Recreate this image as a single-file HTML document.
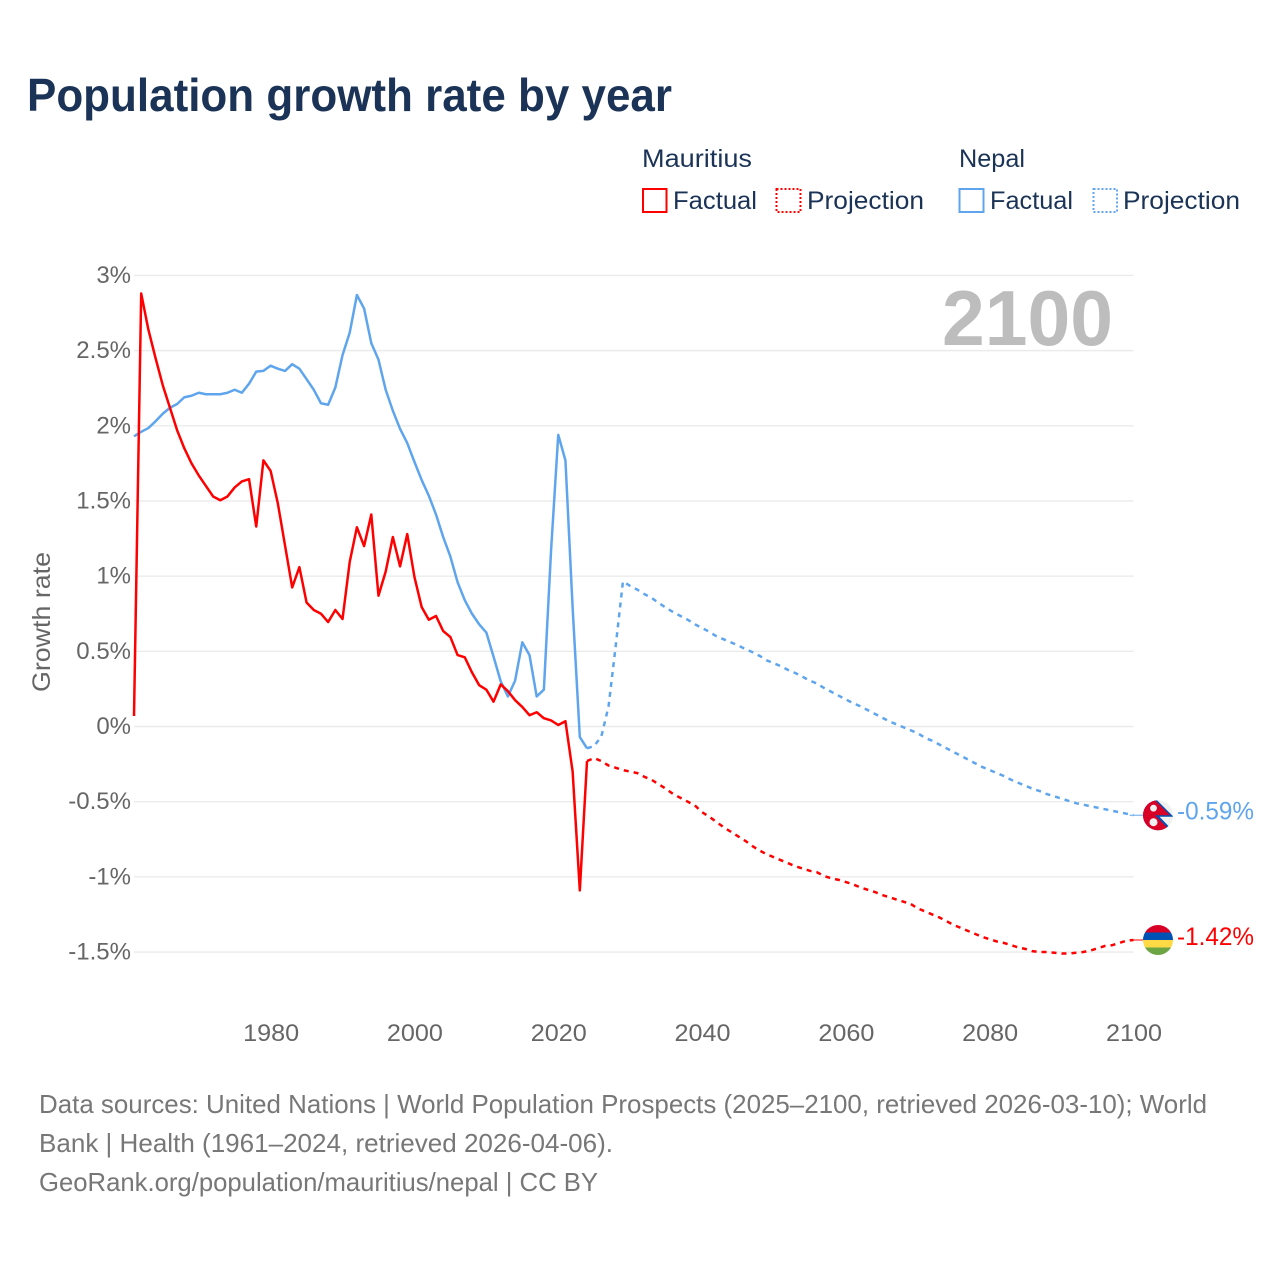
<!DOCTYPE html>
<html lang="en">
<head>
<meta charset="utf-8">
<title>Population growth rate by year</title>
<style>
html,body{margin:0;padding:0;background:#fff;width:1280px;height:1280px;overflow:hidden}
svg{display:block}
text{font-family:"Liberation Sans",sans-serif}
.tick{font-size:24px;fill:#666}
.leg{font-size:25px;fill:#1a3356}
.foot{font-size:26px;fill:#777}
</style>
</head>
<body>
<svg id="chart" xmlns="http://www.w3.org/2000/svg" width="1280" height="1280" viewBox="0 0 1280 1280">
  <defs>
    <clipPath id="flag-clip-np"><circle cx="0" cy="0" r="15"/></clipPath>
    <clipPath id="flag-clip-mu"><circle cx="0" cy="0" r="15"/></clipPath>
  </defs>

  <text x="27" y="111" font-size="46" font-weight="700" fill="#1a3356" textLength="645" lengthAdjust="spacingAndGlyphs">Population growth rate by year</text>

  <g>
    <text class="leg" x="642" y="167" textLength="110" lengthAdjust="spacingAndGlyphs">Mauritius</text>
    <g>
      <rect x="643" y="189" width="23.5" height="23" fill="none" stroke="#ff0000" stroke-width="2"/>
      <text class="leg" x="673" y="209" textLength="84" lengthAdjust="spacingAndGlyphs">Factual</text>
    </g>
    <g>
      <rect x="776.5" y="189" width="24" height="23" fill="none" stroke="#ff0000" stroke-width="2" stroke-dasharray="2 2"/>
      <text class="leg" x="807" y="209" textLength="117" lengthAdjust="spacingAndGlyphs">Projection</text>
    </g>
    <text class="leg" x="959" y="167" textLength="66" lengthAdjust="spacingAndGlyphs">Nepal</text>
    <g>
      <rect x="959.5" y="189" width="24" height="23" fill="none" stroke="#5fa5ee" stroke-width="2"/>
      <text class="leg" x="990" y="209" textLength="83" lengthAdjust="spacingAndGlyphs">Factual</text>
    </g>
    <g>
      <rect x="1093.5" y="189" width="23.5" height="23" fill="none" stroke="#5fa5ee" stroke-width="2" stroke-dasharray="2 2"/>
      <text class="leg" x="1123" y="209" textLength="117" lengthAdjust="spacingAndGlyphs">Projection</text>
    </g>
  </g>

  <g id="grid"></g>
  <g id="yticks"></g>
  <g id="xticks"></g>

  <text x="1113" y="345" font-size="78" font-weight="700" fill="#bdbdbd" text-anchor="end" textLength="171" lengthAdjust="spacingAndGlyphs">2100</text>

  <text transform="translate(50,622) rotate(-90)" font-size="25" fill="#666" text-anchor="middle" textLength="140" lengthAdjust="spacingAndGlyphs">Growth rate</text>

  <g id="series"></g>

  <g id="flag-nepal">
    <g clip-path="url(#flag-clip-np)">
      <rect x="-15" y="-15" width="30" height="30" fill="#f0f0f0"/>
      <polygon points="-4,-18 15.5,1.5 1.5,1.5 15.5,16 -15,17 -15,-18" fill="#0052b4"/>
      <polygon points="-3,-15 12,0 -3,0 12.5,15.5 -15,16 -15,-16" fill="#d80027"/>
      <circle cx="-4.5" cy="-7" r="3.4" fill="#f0f0f0"/>
      <circle cx="-4.5" cy="7" r="4" fill="#f0f0f0"/>
    </g>
  </g>
  <g id="flag-mauritius">
    <g clip-path="url(#flag-clip-mu)">
      <rect x="-15" y="-15" width="30" height="8" fill="#d80027"/>
      <rect x="-15" y="-7.5" width="30" height="7.5" fill="#0052b4"/>
      <rect x="-15" y="0" width="30" height="7.5" fill="#ffda44"/>
      <rect x="-15" y="7.5" width="30" height="8" fill="#6da544"/>
    </g>
  </g>
  <text id="end-label-nepal" x="1177" font-size="25" fill="#5fa5ee" textLength="77" lengthAdjust="spacingAndGlyphs"></text>
  <text id="end-label-mauritius" x="1177" font-size="25" fill="#ff0000" textLength="77" lengthAdjust="spacingAndGlyphs"></text>

  <g>
    <text class="foot" x="39" y="1113" textLength="1168" lengthAdjust="spacingAndGlyphs">Data sources: United Nations | World Population Prospects (2025–2100, retrieved 2026-03-10); World</text>
    <text class="foot" x="39" y="1152" textLength="574" lengthAdjust="spacingAndGlyphs">Bank | Health (1961–2024, retrieved 2026-04-06).</text>
    <text class="foot" x="39" y="1191" textLength="559" lengthAdjust="spacingAndGlyphs">GeoRank.org/population/mauritius/nepal | CC BY</text>
  </g>
</svg>
<script>
const yTicks = [3, 2.5, 2, 1.5, 1, 0.5, 0, -0.5, -1, -1.5];
const yTickLabels = ['3%', '2.5%', '2%', '1.5%', '1%', '0.5%', '0%', '-0.5%', '-1%', '-1.5%'];
const xTicks = [1980, 2000, 2020, 2040, 2060, 2080, 2100];
const xTickLabels = ['1980', '2000', '2020', '2040', '2060', '2080', '2100'];
const factualStartYear = 1961;
const projectionStartYear = 2025;
const mauritiusFactual = [
  0.07, 2.88, 2.64, 2.45, 2.27, 2.12, 1.97, 1.85, 1.75, 1.67,
  1.60, 1.53, 1.505, 1.53, 1.59, 1.63, 1.645, 1.33, 1.77, 1.70,
  1.485, 1.205, 0.925, 1.06, 0.825, 0.775, 0.75, 0.695, 0.775, 0.715,
  1.095, 1.325, 1.20, 1.41, 0.87, 1.03, 1.26, 1.065, 1.28, 0.995,
  0.795, 0.71, 0.735, 0.635, 0.595, 0.475, 0.46, 0.36, 0.275, 0.245,
  0.165, 0.28, 0.235, 0.175, 0.13, 0.075, 0.095, 0.055, 0.04, 0.01,
  0.035, -0.30, -1.09, -0.23
];
const nepalFactual = [
  1.93, 1.96, 1.985, 2.03, 2.08, 2.12, 2.145, 2.19, 2.20, 2.22,
  2.21, 2.21, 2.21, 2.22, 2.24, 2.22, 2.28, 2.36, 2.365, 2.40,
  2.38, 2.365, 2.41, 2.38, 2.31, 2.24, 2.15, 2.14, 2.255, 2.47,
  2.62, 2.87, 2.78, 2.55, 2.44, 2.24, 2.10, 1.98, 1.885, 1.76,
  1.64, 1.535, 1.41, 1.26, 1.13, 0.96, 0.84, 0.75, 0.68, 0.625,
  0.465, 0.30, 0.20, 0.305, 0.56, 0.475, 0.20, 0.245, 1.17, 1.94,
  1.77, 0.79, -0.07, -0.145
];
const mauritiusProjection = [
  -0.21, -0.23, -0.26, -0.275, -0.29, -0.30, -0.31, -0.335, -0.355, -0.385,
  -0.415, -0.45, -0.475, -0.50, -0.525, -0.57, -0.60, -0.635, -0.67, -0.70,
  -0.73, -0.76, -0.795, -0.825, -0.85, -0.87, -0.89, -0.91, -0.93, -0.945,
  -0.96, -0.97, -0.995, -1.01, -1.02, -1.035, -1.05, -1.07, -1.085, -1.10,
  -1.12, -1.135, -1.15, -1.165, -1.18, -1.21, -1.23, -1.25, -1.27, -1.295,
  -1.32, -1.34, -1.36, -1.38, -1.40, -1.415, -1.43, -1.44, -1.455, -1.47,
  -1.48, -1.495, -1.50, -1.50, -1.505, -1.51, -1.51, -1.505, -1.50, -1.49,
  -1.475, -1.46, -1.455, -1.44, -1.425, -1.42
];
const nepalProjection = [
  -0.13, -0.065, 0.135, 0.54, 0.965, 0.935, 0.91, 0.88, 0.855, 0.82,
  0.79, 0.76, 0.735, 0.71, 0.68, 0.655, 0.63, 0.60, 0.58, 0.56,
  0.54, 0.515, 0.495, 0.47, 0.44, 0.42, 0.40, 0.375, 0.355, 0.33,
  0.305, 0.285, 0.255, 0.23, 0.205, 0.18, 0.155, 0.135, 0.11, 0.085,
  0.06, 0.035, 0.015, -0.005, -0.025, -0.045, -0.075, -0.095, -0.12, -0.145,
  -0.17, -0.195, -0.22, -0.245, -0.27, -0.29, -0.31, -0.33, -0.355, -0.375,
  -0.395, -0.415, -0.43, -0.45, -0.465, -0.48, -0.495, -0.51, -0.52, -0.53,
  -0.54, -0.55, -0.56, -0.57, -0.58, -0.59
];

const SVG_NS = 'http://www.w3.org/2000/svg';
const RED = '#ff0000';
const BLUE = '#5fa5ee';

function xScale(year) {
  return 134 + (year - 1961) * (1133.5 - 134) / (2100 - 1961);
}
function yScale(value) {
  return 726.5 - value * 150.35;
}
function buildPath(startYear, values) {
  return values.map(function (v, i) {
    return (i ? 'L' : 'M') + xScale(startYear + i).toFixed(2) + ' ' + yScale(v).toFixed(2);
  }).join(' ');
}

const grid = document.getElementById('grid');
const yTickGroup = document.getElementById('yticks');
yTicks.forEach(function (t, i) {
  const line = document.createElementNS(SVG_NS, 'line');
  
  
  line.setAttribute('x1', xScale(1961));
  line.setAttribute('x2', xScale(2100));
  line.setAttribute('y1', yScale(t));
  line.setAttribute('y2', yScale(t));
  line.setAttribute('stroke', '#ebebeb');
  line.setAttribute('stroke-width', '1.4');
  grid.appendChild(line);

  const label = document.createElementNS(SVG_NS, 'text');
  
  
  label.setAttribute('class', 'tick');
  label.setAttribute('x', 131);
  label.setAttribute('y', yScale(t) + 7.5);
  label.setAttribute('text-anchor', 'end');
  label.textContent = yTickLabels[i];
  yTickGroup.appendChild(label);
});

const xTickGroup = document.getElementById('xticks');
xTicks.forEach(function (t, i) {
  const label = document.createElementNS(SVG_NS, 'text');
  
  
  label.setAttribute('class', 'tick');
  label.setAttribute('x', xScale(t) + 0.5);
  label.setAttribute('y', 1041);
  label.setAttribute('text-anchor', 'middle');
  label.setAttribute('textLength', '56');
  label.setAttribute('lengthAdjust', 'spacingAndGlyphs');
  label.textContent = xTickLabels[i];
  xTickGroup.appendChild(label);
});

const seriesGroup = document.getElementById('series');

const nepalFactualLine = document.createElementNS(SVG_NS, 'path');


nepalFactualLine.setAttribute('d', buildPath(factualStartYear, nepalFactual));
nepalFactualLine.setAttribute('fill', 'none');
nepalFactualLine.setAttribute('stroke', BLUE);
nepalFactualLine.setAttribute('stroke-width', '2.5');
nepalFactualLine.setAttribute('stroke-linejoin', 'round');
seriesGroup.appendChild(nepalFactualLine);

const nepalProjectionLine = document.createElementNS(SVG_NS, 'path');


nepalProjectionLine.setAttribute('d', buildPath(projectionStartYear - 1, [nepalFactual[nepalFactual.length - 1]].concat(nepalProjection)));
nepalProjectionLine.setAttribute('fill', 'none');
nepalProjectionLine.setAttribute('stroke', BLUE);
nepalProjectionLine.setAttribute('stroke-width', '2.5');
nepalProjectionLine.setAttribute('stroke-dasharray', '5 5');
seriesGroup.appendChild(nepalProjectionLine);

const mauritiusFactualLine = document.createElementNS(SVG_NS, 'path');


mauritiusFactualLine.setAttribute('d', buildPath(factualStartYear, mauritiusFactual));
mauritiusFactualLine.setAttribute('fill', 'none');
mauritiusFactualLine.setAttribute('stroke', RED);
mauritiusFactualLine.setAttribute('stroke-width', '2.5');
mauritiusFactualLine.setAttribute('stroke-linejoin', 'round');
seriesGroup.appendChild(mauritiusFactualLine);

const mauritiusProjectionLine = document.createElementNS(SVG_NS, 'path');


mauritiusProjectionLine.setAttribute('d', buildPath(projectionStartYear - 1, [mauritiusFactual[mauritiusFactual.length - 1]].concat(mauritiusProjection)));
mauritiusProjectionLine.setAttribute('fill', 'none');
mauritiusProjectionLine.setAttribute('stroke', RED);
mauritiusProjectionLine.setAttribute('stroke-width', '2.5');
mauritiusProjectionLine.setAttribute('stroke-dasharray', '5 5');
seriesGroup.appendChild(mauritiusProjectionLine);

const nepalEnd = nepalProjection[nepalProjection.length - 1];
const mauritiusEnd = mauritiusProjection[mauritiusProjection.length - 1];

const nepalLeader = document.createElementNS(SVG_NS, 'line');


nepalLeader.setAttribute('x1', xScale(2100) - 4);
nepalLeader.setAttribute('x2', xScale(2100) + 10);
nepalLeader.setAttribute('y1', yScale(nepalEnd));
nepalLeader.setAttribute('y2', yScale(nepalEnd));
nepalLeader.setAttribute('stroke', BLUE);
nepalLeader.setAttribute('stroke-width', '1');
seriesGroup.appendChild(nepalLeader);

const mauritiusLeader = document.createElementNS(SVG_NS, 'line');


mauritiusLeader.setAttribute('x1', xScale(2100) - 4);
mauritiusLeader.setAttribute('x2', xScale(2100) + 10);
mauritiusLeader.setAttribute('y1', yScale(mauritiusEnd));
mauritiusLeader.setAttribute('y2', yScale(mauritiusEnd));
mauritiusLeader.setAttribute('stroke', RED);
mauritiusLeader.setAttribute('stroke-width', '1');
seriesGroup.appendChild(mauritiusLeader);

document.getElementById('flag-nepal').setAttribute('transform', 'translate(' + (xScale(2100) + 24.5) + ',' + yScale(nepalEnd) + ')');
document.getElementById('flag-mauritius').setAttribute('transform', 'translate(' + (xScale(2100) + 24.5) + ',' + yScale(mauritiusEnd) + ')');

const nepalLabel = document.getElementById('end-label-nepal');
nepalLabel.setAttribute('y', yScale(nepalEnd) + 4.5);
nepalLabel.textContent = nepalEnd.toFixed(2) + '%';

const mauritiusLabel = document.getElementById('end-label-mauritius');
mauritiusLabel.setAttribute('y', yScale(mauritiusEnd) + 5);
mauritiusLabel.textContent = mauritiusEnd.toFixed(2) + '%';
</script>
</body>
</html>
